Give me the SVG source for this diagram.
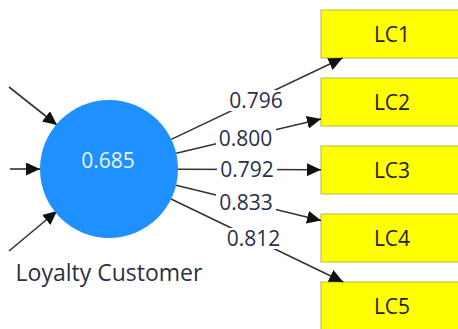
<svg xmlns="http://www.w3.org/2000/svg" width="458" height="329" viewBox="0 0 458 329">
  <style>
    .edge { stroke: #333; stroke-width: 1.6; fill: none; marker-end: url(#arrow); }
    .lbl-bg { fill: #fff; }
    .lbl { font-family: "Open Sans", "Noto Sans", sans-serif; font-size: 21px; fill: #2a2f4a; text-anchor: middle; }
    .ind rect { fill: #ffff00; stroke: #b9b93a; stroke-width: 1; }
    .ind text { font-family: "Open Sans", "Noto Sans", sans-serif; font-size: 21px; fill: #1e1e10; text-anchor: middle; }
    .lv circle { fill: #1e90ff; }
    .lv .val { font-family: "Open Sans", "Noto Sans", sans-serif; font-size: 21px; fill: #eef4ff; text-anchor: middle; }
    .lv .name { font-family: "Open Sans", "Noto Sans", sans-serif; font-size: 23px; fill: #2b2f45; text-anchor: middle; }
  </style>
  <defs>
    <marker id="arrow" viewBox="0 0 14 13" refX="14" refY="6.5" markerWidth="14" markerHeight="13" markerUnits="userSpaceOnUse" orient="auto">
      <path d="M0,0 L14,6.5 L0,13 z" fill="#111"/>
    </marker>
  </defs>

  <!-- indicator boxes -->
  <g id="LC1" class="ind"><rect x="321" y="10" width="146" height="48"/><text x="392" y="42">LC1</text></g>
  <g id="LC2" class="ind"><rect x="321" y="78" width="146" height="48"/><text x="392" y="110">LC2</text></g>
  <g id="LC3" class="ind"><rect x="321" y="146" width="146" height="48"/><text x="392" y="178">LC3</text></g>
  <g id="LC4" class="ind"><rect x="321" y="214" width="146" height="48"/><text x="392" y="246">LC4</text></g>
  <g id="LC5" class="ind"><rect x="321" y="282" width="146" height="48"/><text x="392" y="314">LC5</text></g>

  <!-- connectors with loading labels -->
  <g id="connectors">
    <line class="edge" x1="9" y1="87" x2="57" y2="125"/>
    <line class="edge" x1="10" y1="169" x2="40" y2="169"/>
    <line class="edge" x1="9" y1="251" x2="57" y2="211"/>

    <line class="edge" x1="171.3" y1="139.4" x2="342.5" y2="58"/>
    <line class="edge" x1="176.2" y1="153.2" x2="321" y2="119"/>
    <line class="edge" x1="178" y1="169.2" x2="321" y2="169.7"/>
    <line class="edge" x1="176" y1="185.3" x2="321" y2="220.5"/>
    <line class="edge" x1="171.1" y1="199" x2="343.2" y2="282"/>

    <rect class="lbl-bg" x="225" y="90" width="62" height="21"/>
    <rect class="lbl-bg" x="216" y="128" width="60" height="21"/>
    <rect class="lbl-bg" x="217" y="160" width="60" height="21"/>
    <rect class="lbl-bg" x="216" y="192" width="60" height="21"/>
    <rect class="lbl-bg" x="224" y="228" width="60" height="21"/>

    <text class="lbl" x="256" y="108">0.796</text>
    <text class="lbl" x="245.5" y="146">0.800</text>
    <text class="lbl" x="247" y="177">0.792</text>
    <text class="lbl" x="246" y="210">0.833</text>
    <text class="lbl" x="253.5" y="246">0.812</text>
  </g>

  <!-- latent variable -->
  <g id="LoyaltyCustomer" class="lv">
    <circle cx="109" cy="169" r="69"/>
    <text class="val" x="108" y="168">0.685</text>
    <text class="name" x="109" y="281">Loyalty Customer</text>
  </g>
</svg>
